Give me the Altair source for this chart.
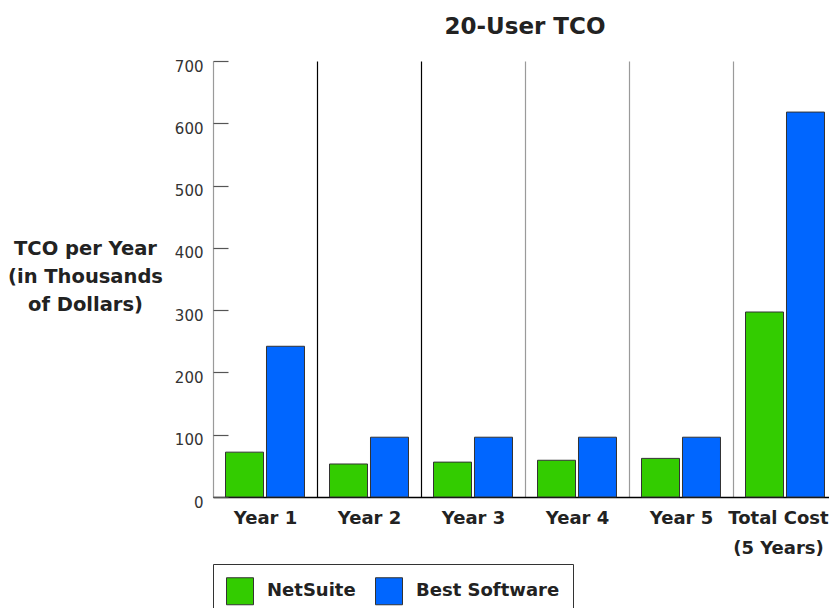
import altair as alt
import pandas as pd

categories = ["Year 1", "Year 2", "Year 3", "Year 4", "Year 5", "Total Cost (5 Years)"]
series = ["NetSuite", "Best Software"]
netsuite = [72, 53, 56, 59, 62, 297]
best_software = [242, 96, 96, 96, 96, 618]
colors = ["#33cc00", "#0066ff"]
y_ticks = [0, 100, 200, 300, 400, 500, 600, 700]

rows = []
for c, a, b in zip(categories, netsuite, best_software):
    rows.append({"category": c, "series": series[0], "value": a})
    rows.append({"category": c, "series": series[1], "value": b})
df = pd.DataFrame(rows)

FONT = "DejaVu Sans"

chart = alt.Chart(df).mark_bar(stroke="#333333", strokeWidth=1).encode(
    x=alt.X(
        "category:N",
        sort=categories,
        scale=alt.Scale(paddingInner=0, paddingOuter=0, range=[0, 624]),
        axis=alt.Axis(
            title=None,
            labelAngle=0,
            labelFont=FONT,
            labelFontSize=18,
            labelFontWeight="bold",
            labelColor="#222222",
            labelPadding=12,
            labelLineHeight=30,
            labelBaseline="top",
            labelExpr="datum.label == 'Total Cost (5 Years)' ? ['Total Cost', '(5 Years)'] : datum.label",
            labelOffset={"condition": {"test": "datum.value == 'Total Cost (5 Years)'", "value": -7}, "value": 0},
            ticks=False,
            domainColor="#000000",
            domainWidth=1.5,
            grid=True,
            tickBand="extent",
            gridColor={"condition": {"test": "datum.value == 'Year 1' || datum.value == 'Year 2'", "value": "#000000"}, "value": "#9a9a9a"},
            gridWidth=1.2,
        ),
    ),
    xOffset=alt.XOffset(
        "series:N",
        sort=series,
        scale=alt.Scale(paddingInner=0.073, paddingOuter=0.305),
    ),
    y=alt.Y(
        "value:Q",
        scale=alt.Scale(domain=[0, 700], nice=False),
        axis=alt.Axis(
            values=y_ticks,
            grid=False,
            domain=False,
            offset=-15,
            tickSize=15,
            tickColor="#555555",
            tickWidth=1.2,
            labelFont=FONT,
            labelFontSize=15,
            labelColor="#333333",
            labelPadding=10,
            labelOffset=5,
            title=["TCO per Year", "(in Thousands", "of Dollars)"],
            titleFont=FONT,
            titleFontSize=19.5,
            titleFontWeight="bold",
            titleColor="#222222",
            titleAngle=0,
            titleAlign="center",
            titleBaseline="top",
            titleLineHeight=28,
            titleX=-143,
            titleY=178,
        ),
    ),
    color=alt.Color(
        "series:N",
        sort=series,
        scale=alt.Scale(domain=series, range=colors),
        legend=alt.Legend(
            title=None,
            orient="none",
            legendX=0,
            legendY=503,
            direction="horizontal",
            strokeColor="#333333",
            padding=13,
            symbolType="square",
            symbolSize=729,
            symbolStrokeColor="#333333",
            symbolStrokeWidth=1,
            symbolOpacity=1,
            labelFont=FONT,
            labelFontSize=18,
            labelFontWeight="bold",
            labelColor="#222222",
            labelOffset=13,
            columnPadding=17,
        ),
    ),
).properties(
    width=616,
    height=436,
    autosize=alt.AutoSizeParams(type="none"),
    padding={"left": 205, "top": 53, "right": 0, "bottom": 111},
    title=alt.TitleParams(
        "20-User TCO",
        font=FONT,
        fontSize=23,
        fontWeight="bold",
        color="#222222",
        anchor="middle",
        offset=20,
        dx=4,
    ),
).configure_view(stroke=None)

chart.save("out.html", embed_options={"renderer": "svg", "actions": False})
